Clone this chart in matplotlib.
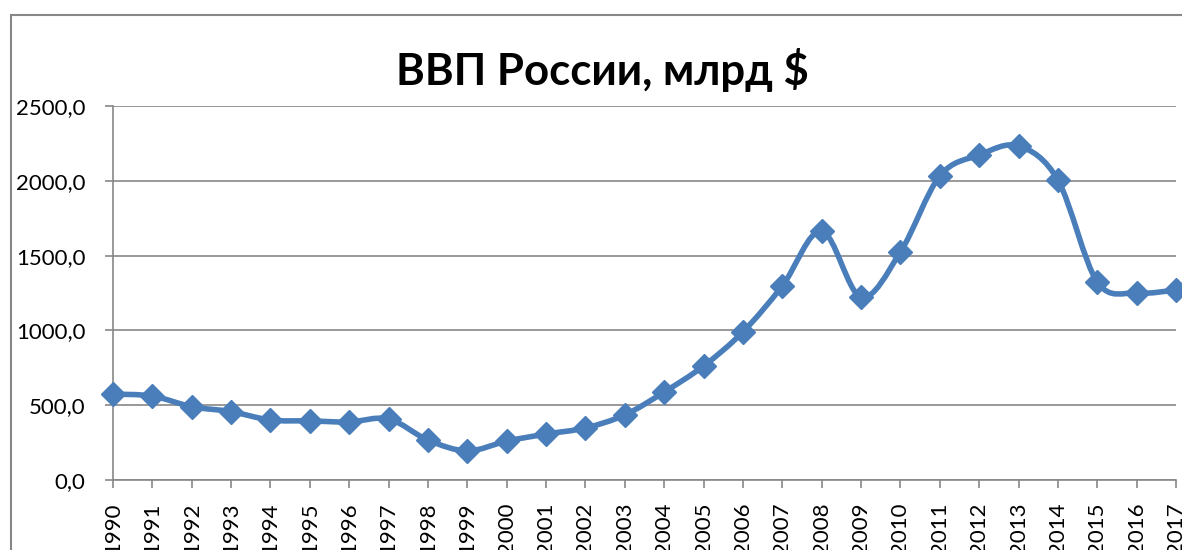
import numpy as np
import matplotlib
matplotlib.use('Agg')
import matplotlib.pyplot as plt
from matplotlib.path import Path
from matplotlib.patches import PathPatch, Rectangle

# data
years = list(range(1990, 2018))
gdp = [574, 561, 490, 457, 401, 395, 388, 408, 267, 195,
       260, 307, 348, 435, 588, 762, 990, 1297, 1664, 1223,
       1524, 2032, 2172, 2233, 2005, 1324, 1250, 1270]
yticks = [0, 500, 1000, 1500, 2000, 2500]
title = 'ВВП России, млрд $'

line_col = '#4A7EBB'
grid_col = '#878787'

plt.rcParams['font.family'] = ['Lato', 'DejaVu Sans']

fig = plt.figure(figsize=(11.82, 5.5), dpi=100)
ax = fig.add_axes([113/1182, 70/550, 1063/1182, 374/550])

# smooth line like excel (catmull-rom as bezier)
x = np.array(years, dtype=float)
y = np.array(gdp, dtype=float)
verts = [(x[0], y[0])]
codes = [Path.MOVETO]
n = len(x)
for i in range(n - 1):
    p0 = np.array([x[max(i-1, 0)], y[max(i-1, 0)]])
    p1 = np.array([x[i], y[i]])
    p2 = np.array([x[i+1], y[i+1]])
    p3 = np.array([x[min(i+2, n-1)], y[min(i+2, n-1)]])
    c1 = p1 + (p2 - p0) / 6
    c2 = p2 - (p3 - p1) / 6
    verts += [tuple(c1), tuple(c2), tuple(p2)]
    codes += [Path.CURVE4] * 3
ax.add_patch(PathPatch(Path(verts, codes), facecolor='none', edgecolor=line_col,
                       lw=4, clip_on=False, zorder=3, capstyle='round', joinstyle='round'))
ax.plot(years, gdp, ls='none', marker='D', ms=12, color=line_col, clip_on=False, zorder=4)

ax.set_xlim(1990, 2017)
ax.set_ylim(0, 2500)
ax.set_xticks(years)
ax.set_xticklabels([str(v) for v in years], rotation=90, fontsize=16)
ax.set_yticks(yticks)
ax.set_yticklabels(['{:.1f}'.format(v).replace('.', ',') for v in yticks], fontsize=16)
ax.yaxis.grid(True, color=grid_col, lw=1.2)
ax.set_axisbelow(True)
for s in ['top', 'right']:
    ax.spines[s].set_visible(False)
for s in ['left', 'bottom']:
    ax.spines[s].set_color(grid_col)
    ax.spines[s].set_linewidth(1.2)
ax.tick_params(axis='x', direction='out', length=6, color=grid_col, width=1.2, pad=10)
ax.tick_params(axis='y', direction='out', length=6, color=grid_col, width=1.2, pad=14)

fig.text(602/1182, 1 - 70/550, title, ha='center', va='center', fontsize=31.5, fontweight='bold')

# outer chart border
fig.patches.append(Rectangle((11/1182, -0.1), 1.2, 1 - 15/550 + 0.1, transform=fig.transFigure,
                             fill=False, edgecolor=grid_col, lw=1.5))

fig.savefig('out.png', dpi=100)
